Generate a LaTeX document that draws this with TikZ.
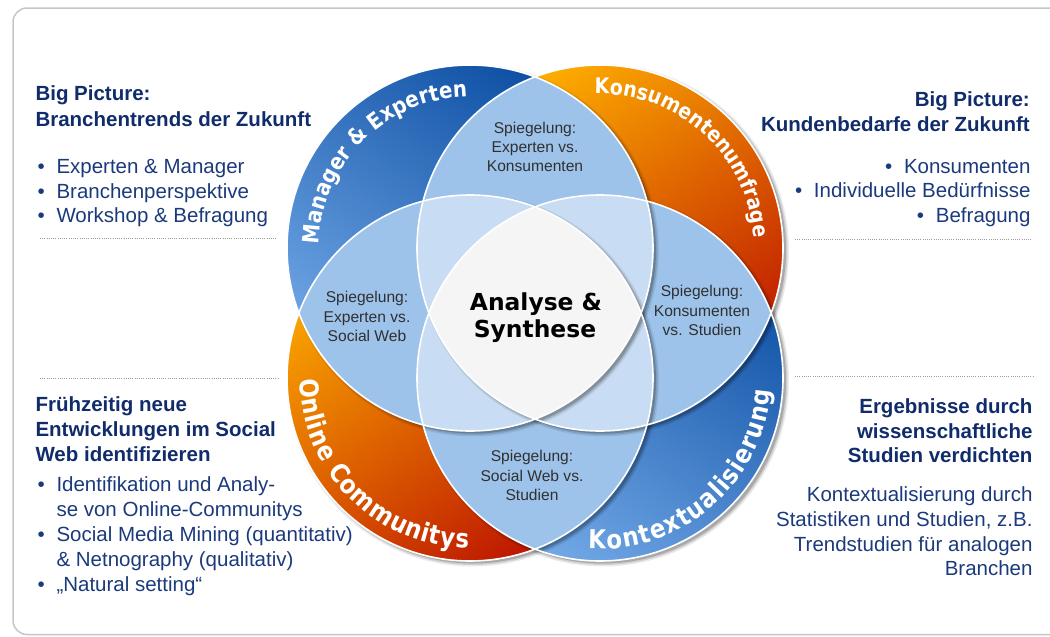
\documentclass[tikz,border=0pt]{standalone}
\usepackage{fontspec}
\setmainfont{Liberation Sans}
\newfontfamily\ringfont{DejaVu Sans}
\newfontfamily\ringfontc{DejaVu Sans}[FakeStretch=0.88]
\usetikzlibrary{decorations.text}

\definecolor{headnavy}{HTML}{112C6B}
\definecolor{bodynavy}{HTML}{1B3A7C}
\definecolor{lenspair}{HTML}{9DC3EA}
\definecolor{lenstriple}{HTML}{C8DDF3}
\definecolor{lenscore}{HTML}{F5F5F5}
\definecolor{blueA}{HTML}{0C4EA3}
\definecolor{blueB}{HTML}{74AAE8}
\definecolor{orangeA}{HTML}{FFB000}
\definecolor{orangeB}{HTML}{BC1400}
\definecolor{framegray}{HTML}{C6C6C6}
\definecolor{lensink}{HTML}{303030}
\definecolor{dotgray}{HTML}{9C9C9C}

\newcommand\ringR{183pt}

\begin{document}
\begin{tikzpicture}[x=1pt,y=1pt,
  every node/.style={inner sep=0pt, outer sep=0pt},
  head/.style={font=\fontsize{20.5}{25}\selectfont\bfseries, text=headnavy},
  body/.style={font=\fontsize{20.5}{25}\selectfont, text=bodynavy},
  lens/.style={font=\fontsize{15.6}{19}\selectfont, text=lensink, anchor=base},
  core/.style={font=\ringfont\bfseries\fontsize{23.4}{27}\selectfont, text=black, anchor=base},
  sep/.style={draw=dotgray, line width=1pt, dash pattern=on 1pt off 1.2pt},
  rim/.style={draw=white, line width=1.6pt},
]
\useasboundingbox (0,0) rectangle (1050,-637);

% outer frame (runs off the right edge)
\draw[framegray, line width=1.5pt, rounded corners=14pt] (13,-8) rectangle (1090,-634.5);

% circle centres
\coordinate (TL) at (470,-248);
\coordinate (TR) at (600,-248);
\coordinate (BL) at (470,-378);
\coordinate (BR) at (600,-378);

% coloured discs with diagonal gradients
\begin{scope}[transform canvas={rotate around={-35:(470,-248)}}]
  \shade[top color=blueA, bottom color=blueB] (TL) circle[radius=\ringR];
\end{scope}
\begin{scope}[transform canvas={rotate around={35:(600,-248)}}]
  \shade[top color=orangeA, bottom color=orangeB] (TR) circle[radius=\ringR];
\end{scope}
\begin{scope}[transform canvas={rotate around={35:(470,-378)}}]
  \shade[top color=orangeA, bottom color=orangeB] (BL) circle[radius=\ringR];
\end{scope}
\begin{scope}[transform canvas={rotate around={-35:(600,-378)}}]
  \shade[top color=blueA, bottom color=blueB] (BR) circle[radius=\ringR];
\end{scope}

% overlaps of two discs
\foreach \a/\b in {TL/TR,TL/BL,TR/BR,BL/BR,TL/BR,TR/BL} {
  \begin{scope}
    \clip (\a) circle[radius=\ringR];
    \fill[lenspair] (\b) circle[radius=\ringR];
  \end{scope}
}
% overlaps of three discs
\foreach \a/\b/\d in {TL/TR/BL,TL/TR/BR,TL/BL/BR,TR/BL/BR} {
  \begin{scope}
    \clip (\a) circle[radius=\ringR];
    \clip (\b) circle[radius=\ringR];
    \fill[lenstriple] (\d) circle[radius=\ringR];
  \end{scope}
}
% common core
\begin{scope}
  \clip (TL) circle[radius=\ringR];
  \clip (TR) circle[radius=\ringR];
  \clip (BL) circle[radius=\ringR];
  \fill[lenscore] (BR) circle[radius=\ringR];
\end{scope}

% soft drop shadows towards the lower right of every disc
\foreach \c in {TL,TR,BL,BR} {
  \begin{scope}[even odd rule]
    \clip (-20,20) rectangle (1070,-660) (\c) circle[radius=\ringR];
    \foreach \r/\o in {186/0.08,184.5/0.12,183/0.18}
      \fill[black, opacity=\o] ([shift={(3,-2.5)}]\c) circle[radius=\r pt];
  \end{scope}
}

% white rims
\foreach \c in {TL,TR,BL,BR}
  \draw[rim] (\c) circle[radius=\ringR];

% ring labels
\path[decorate, decoration={text along path, text align={fit to path},
    text={|\ringfontc\bfseries\fontsize{22.5}{24}\selectfont\color{white}|Manager {\&} Experten}}]
  ([shift={(178.5:151pt)}]TL) arc[start angle=178.5, end angle=91, radius=151pt];
\path[decorate, decoration={text along path, text align={fit to path},
    text={|\ringfontc\bfseries\fontsize{21.5}{24}\selectfont\color{white}|Konsumentenumfrage}}]
  ([shift={(92:154pt)}]TR) arc[start angle=92, end angle=5, radius=154pt];
\path[decorate, decoration={text along path, text align={fit to path},
    text={|\ringfontc\bfseries\fontsize{26}{28}\selectfont\color{white}|Online Communitys}}]
  ([shift={(180.5:170pt)}]BL) arc[start angle=180.5, end angle=269.5, radius=170pt];
\path[decorate, decoration={text along path, text align={fit to path},
    text={|\ringfontc\bfseries\fontsize{26}{28}\selectfont\color{white}|Kontextualisierung}}]
  ([shift={(266:171pt)}]BR) arc[start angle=266, end angle=356, radius=171pt];

% lens texts
\node[lens] (t1) at (535,-133) {Spiegelung:};
\node[lens] (t2) at (535,-152) {Experten vs.};
\node[lens] (t3) at (535,-171) {Konsumenten};
\node[lens] (l1) at (367,-302) {Spiegelung:};
\node[lens] (l2) at (367,-322) {Experten vs.};
\node[lens] (l3) at (367,-341) {Social Web};
\node[lens] (r1) at (702,-296) {Spiegelung:};
\node[lens] (r2) at (702,-316) {Konsumenten};
\node[lens] (r3) at (702,-335) {vs. Studien};
\node[lens] (b1) at (532,-461) {Spiegelung:};
\node[lens] (b2) at (532,-481) {Social Web vs.};
\node[lens] (b3) at (532,-500) {Studien};
\node[core] (c1) at (536,-310) {Analyse \&};
\node[core] (c2) at (535,-337) {Synthese};

% upper left block
\node[head, anchor=base west] (tlh1) at (35.5,-100.5) {Big Picture:};
\node[head, anchor=base west] (tlh2) at (35.5,-126) {Branchentrends der Zukunft};
\node[body, anchor=base west] (tlb1) at (56.5,-173.3) {Experten \& Manager};
\node[body, anchor=base west] (tlb2) at (56.5,-198) {Branchenperspektive};
\node[body, anchor=base west] (tlb3) at (56.5,-222.7) {Workshop \& Befragung};
\draw[sep] (40,-238.5) -- (277,-238.5);

% upper right block
\node[head, anchor=base east] (trh1) at (1029.8,-106.7) {Big Picture:};
\node[head, anchor=base east] (trh2) at (1029.8,-131.7) {Kundenbedarfe der Zukunft};
\node[body, anchor=base east] (trb1) at (1030.5,-173.3) {Konsumenten};
\node[body, anchor=base east] (trb2) at (1030.5,-197.7) {Individuelle Bedürfnisse};
\node[body, anchor=base east] (trb3) at (1030.5,-222.7) {Befragung};
\draw[sep] (795,-239) -- (1032,-239);

% lower left block
\draw[sep] (40,-378.3) -- (278,-378.3);
\node[head, anchor=base west] (blh1) at (35.5,-411.7) {Frühzeitig neue};
\node[head, anchor=base west] (blh2) at (35.5,-436.7) {Entwicklungen im Social};
\node[head, anchor=base west] (blh3) at (35.5,-461) {Web identifizieren};
\node[body, anchor=base west] (blb1) at (56.5,-491.7) {Identifikation und Analy-};
\node[body, anchor=base west] (blb1c) at (56.5,-516.7) {se von Online-Communitys};
\node[body, anchor=base west] (blb2) at (56.5,-541.7) {Social Media Mining (quantitativ)};
\node[body, anchor=base west] (blb2c) at (56.5,-566.7) {\& Netnography (qualitativ)};
\node[body, anchor=base west] (blb3) at (56.5,-591.7) {„Natural setting“};

% lower right block
\draw[sep] (795,-376) -- (1033,-376);
\node[head, anchor=base east] (brh1) at (1032.5,-413.3) {Ergebnisse durch};
\node[head, anchor=base east] (brh2) at (1032.5,-438.3) {wissenschaftliche};
\node[head, anchor=base east] (brh3) at (1032.5,-462.3) {Studien verdichten};
\node[body, anchor=base east] (brb1) at (1032.5,-501.7) {Kontextualisierung durch};
\node[body, anchor=base east] (brb2) at (1032.5,-526.7) {Statistiken und Studien, z.B.};
\node[body, anchor=base east] (brb3) at (1032.5,-551) {Trendstudien für analogen};
\node[body, anchor=base east] (brb4) at (1032.5,-575) {Branchen};

% bullets in front of the list items
\foreach \n in {tlb1,tlb2,tlb3,trb1,trb2,trb3,blb1,blb2,blb3}
  \node[body, anchor=base east] (\n-dot) at ([xshift=-11.8pt]\n.base west) {\textbullet};
\end{tikzpicture}
\end{document}
